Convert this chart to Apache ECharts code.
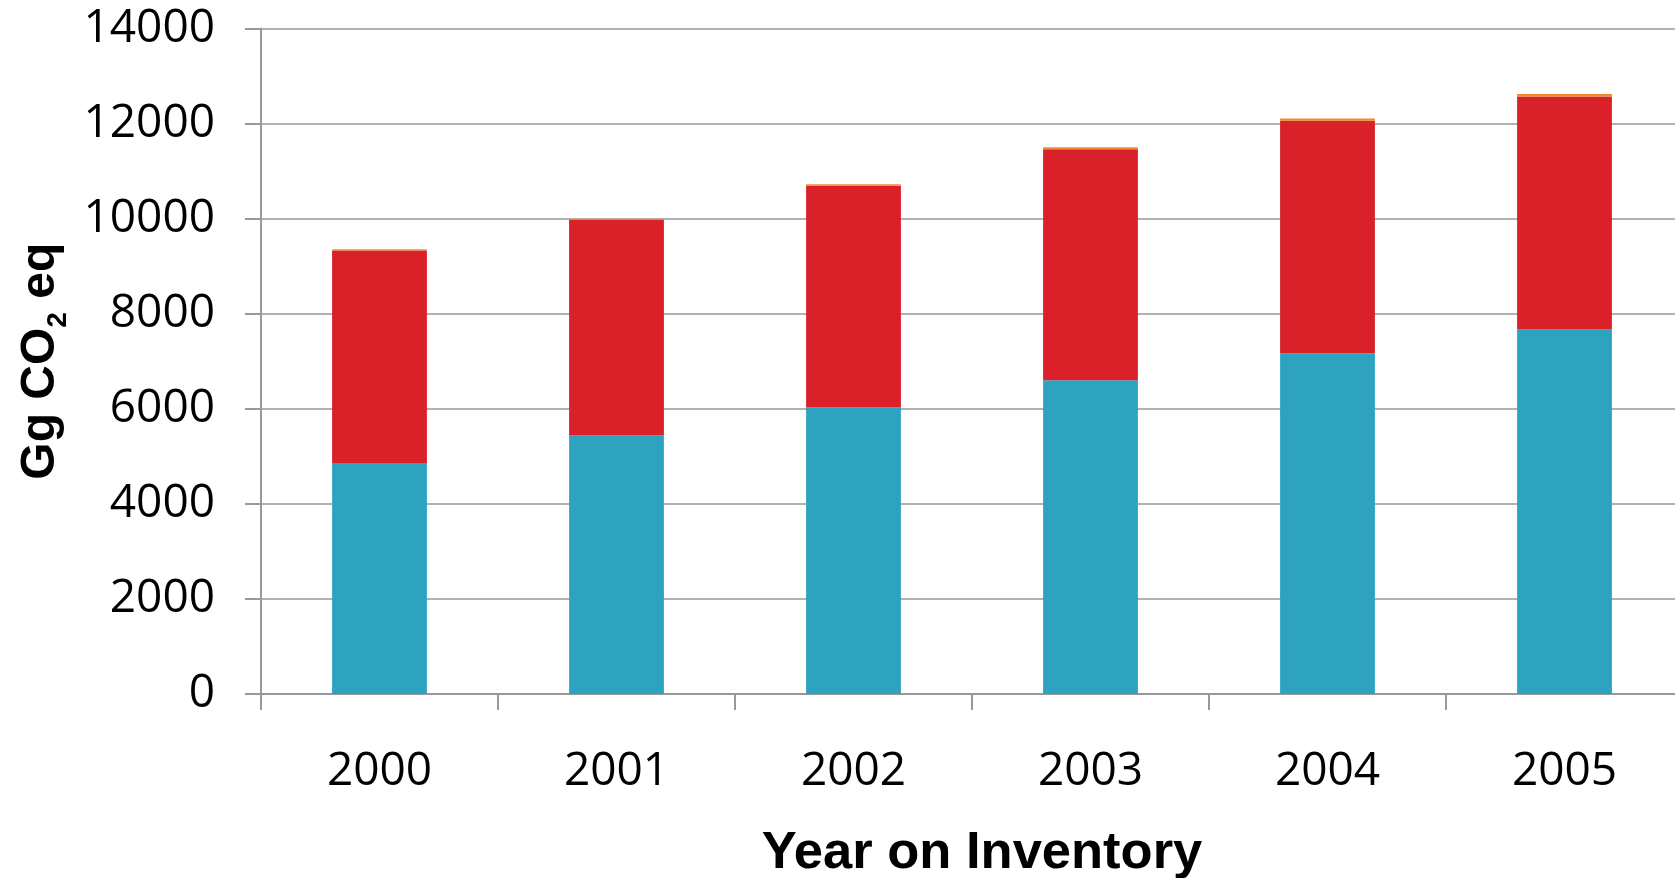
<!DOCTYPE html>
<html>
<head>
<meta charset="utf-8">
<script src="https://cdn.jsdelivr.net/npm/echarts@6/dist/echarts.min.js"></script>
<style>
  html, body { margin: 0; padding: 0; background: #fff; }
  #main { width: 1675px; height: 878px; }
</style>
</head>
<body>
<div id="main"></div>
<script>
// years on the x axis
var years = ['2000', '2001', '2002', '2003', '2004', '2005'];
// stacked parts, Gg CO2 eq
var blueVals = [4860, 5440, 6030, 6600, 7170, 7670];
var redVals = [4470, 4530, 4660, 4860, 4890, 4900];
var orangeVals = [25, 30, 35, 40, 45, 50];
// y axis range
var yMin = 0, yMax = 14000, yStep = 2000;

var myChart = echarts.init(document.getElementById('main'));

var gray = '#999999';

myChart.setOption({
  animation: false,
  grid: { left: 261, top: 28.5, bottom: 184, width: 1422, outerBoundsMode: 'none', containLabel: false },
  xAxis: {
    type: 'category',
    data: years,
    name: 'Year on Inventory',
    nameLocation: 'middle',
    nameGap: 133,
    nameTextStyle: { fontFamily: 'Liberation Sans', fontWeight: 'bold', fontSize: 52.5, color: '#000', padding: [0, 0, 0, 20] },
    axisLine: { lineStyle: { color: gray, width: 2 } },
    axisTick: { show: true, length: 16, lineStyle: { color: gray, width: 2 } },
    axisLabel: { margin: 55, fontFamily: 'Open Sans', fontSize: 46, color: '#000' }
  },
  yAxis: {
    type: 'value',
    min: yMin, max: yMax, interval: yStep,
    name: '{a|Gg CO}{s|2}{a| eq}',
    nameLocation: 'middle',
    nameRotate: 90,
    nameGap: 177,
    nameTextStyle: {
      rich: {
        a: { fontFamily: 'Liberation Sans', fontWeight: 'bold', fontSize: 48, color: '#000', lineHeight: 64 },
        s: { fontFamily: 'Liberation Sans', fontWeight: 'bold', fontSize: 28, color: '#000', lineHeight: 64, verticalAlign: 'bottom' }
      }
    },
    axisLine: { show: true, lineStyle: { color: gray, width: 2 } },
    axisTick: { show: true, length: 16, lineStyle: { color: gray, width: 2 } },
    splitLine: { lineStyle: { color: gray, width: 1.5 } },
    axisLabel: { margin: 46, fontFamily: 'Open Sans', fontSize: 46, color: '#000', formatter: function (v) { return String(v); } }
  },
  series: [
    { type: 'bar', stack: 'total', barWidth: '40%', data: blueVals, itemStyle: { color: '#2ea3bf' } },
    { type: 'bar', stack: 'total', barWidth: '40%', data: redVals, itemStyle: { color: '#da2029' } },
    { type: 'bar', stack: 'total', barWidth: '40%', data: orangeVals, itemStyle: { color: '#ee8a30' } }
  ]
});
</script>
</body>
</html>
